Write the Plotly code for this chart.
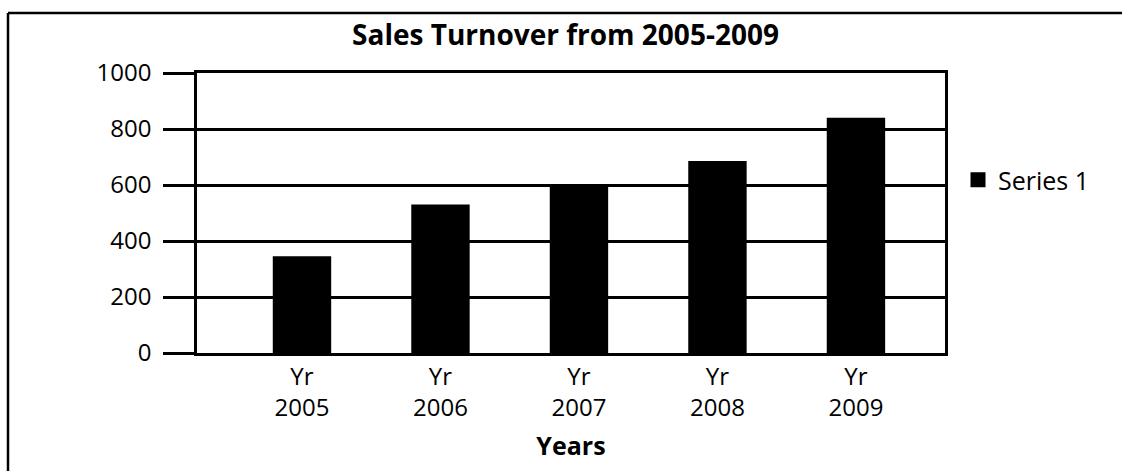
import plotly.graph_objects as go

categories = ["Yr<br>2005", "Yr<br>2006", "Yr<br>2007", "Yr<br>2008", "Yr<br>2009"]
sales = [340, 525, 592, 680, 835]
y_ticks = [0, 200, 400, 600, 800, 1000]

W, H = 1122, 471
L, R, T, B = 197, 177, 73, 118
pw, ph = W - L - R, H - T - B

FONT = "Open Sans, DejaVu Sans, sans-serif"

fig = go.Figure()
fig.add_trace(go.Bar(
    x=categories, y=sales, name="Series 1",
    marker=dict(color="black", line=dict(color="black", width=3)),
    width=0.40,
))

def px_x(p):
    return (p - L) / pw

def px_y(p):
    return 1 - (p - T) / ph

fig.update_layout(
    width=W, height=H,
    margin=dict(l=L, r=R, t=T, b=B, pad=0),
    paper_bgcolor="white", plot_bgcolor="white",
    font=dict(family=FONT, size=24, color="black"),
    title=dict(text="<b>Sales Turnover from 2005-2009</b>", x=px_x(574), xanchor="center",
               y=1 - 35 / H, yanchor="middle", font=dict(size=28, family=FONT)),
    showlegend=True,
    legend=dict(x=px_x(958), xanchor="left", y=px_y(180), yanchor="middle",
                font=dict(size=25), bgcolor="rgba(0,0,0,0)", itemwidth=30),
    xaxis=dict(
        range=[-0.758, 4.643], showgrid=False, showline=True, linecolor="black", linewidth=2.5,
        mirror=True, ticks="", tickfont=dict(size=24),
        title=dict(text="<b>Years</b>", font=dict(size=25), standoff=16),
    ),
    yaxis=dict(
        range=[0, 1000], tickvals=y_ticks, showgrid=True, gridcolor="black", gridwidth=2.5,
        showline=True, linecolor="black", linewidth=2.5, mirror=True,
        ticks="outside", ticklen=31, tickwidth=2.5, tickcolor="black",
        ticklabelstandoff=7, tickfont=dict(size=24), zeroline=False,
    ),
    bargap=0.5,
)

# outer frame (left and top edges visible in reference)
fig.add_shape(type="line", xref="paper", yref="paper",
              x0=px_x(8), x1=px_x(8), y0=px_y(13), y1=px_y(480),
              line=dict(color="black", width=2.5))
fig.add_shape(type="line", xref="paper", yref="paper",
              x0=px_x(8), x1=px_x(1130), y0=px_y(13), y1=px_y(13),
              line=dict(color="black", width=2.5))

fig.write_html("out.html")
